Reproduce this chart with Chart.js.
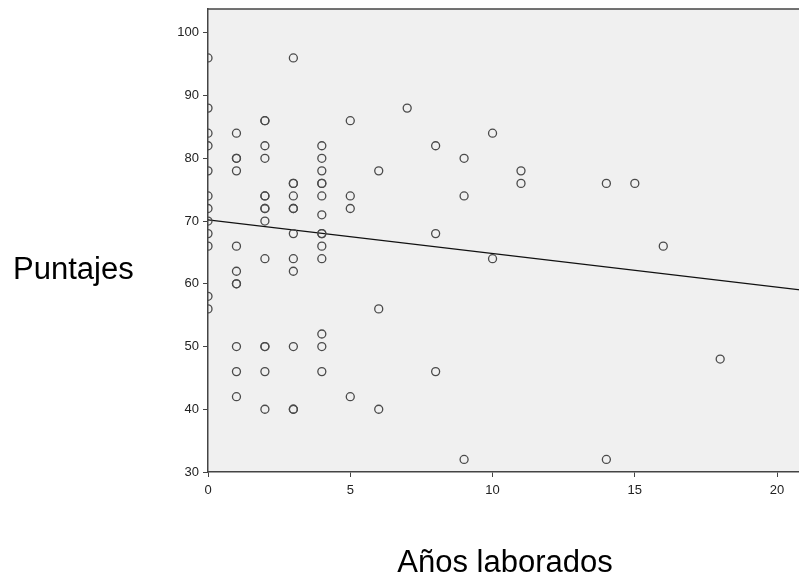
<!DOCTYPE html>
<html>
<head>
<meta charset="utf-8">
<script src="https://cdn.jsdelivr.net/npm/chart.js@4.4.0/dist/chart.umd.min.js"></script>
<style>
  html, body { margin: 0; padding: 0; background: #fff; overflow: hidden; }
  #wrap { position: relative; width: 840px; height: 575px; }
</style>
</head>
<body>
<div id="wrap"><canvas id="grafico" width="840" height="575"></canvas></div>
<script>
// Años laborados (x) y puntajes (y)
const anios = [
  0,0,0,0,0,0,0,0,0,0,0,0,
  1,1,1,1,1,1,1,1,1,1,1,
  2,2,2,2,2,2,2,2,2,2,2,2,2,2,
  3,3,3,3,3,3,3,3,3,3,3,3,
  4,4,4,4,4,4,4,4,4,4,4,4,4,4,
  5,5,5,5,
  6,6,6,
  7,
  8,8,8,
  9,9,9,
  10,10,
  11,11,
  14,14,
  15,
  16,
  18
];
const puntajes = [
  96,88,84,82,78,74,72,70,68,66,58,56,
  84,80,80,78,66,62,60,60,50,46,42,
  86,86,82,80,74,74,72,72,70,64,50,50,46,40,
  96,76,76,74,72,72,68,64,62,50,40,40,
  82,80,78,76,76,74,71,68,68,66,64,52,50,46,
  86,74,72,42,
  78,56,40,
  88,
  82,68,46,
  80,74,32,
  84,64,
  78,76,
  76,32,
  76,
  66,
  48
];
// Recta de ajuste (extremos)
const ajusteX = [0, 22];
const ajusteY = [70.2, 58.4];
const ticksY = [30, 40, 50, 60, 70, 80, 90, 100];
const ticksX = [0, 5, 10, 15, 20];

const puntos = anios.map((a, i) => ({ x: a, y: puntajes[i] }));
const linea = ajusteX.map((a, i) => ({ x: a, y: ajusteY[i] }));

const fondoYTitulos = {
  id: "fondoYTitulos",
  beforeDraw(chart) {
    const { ctx, chartArea: a } = chart;
    ctx.save();
    ctx.fillStyle = "#f0f0f0";
    ctx.fillRect(a.left, a.top, a.right - a.left, a.bottom - a.top);
    ctx.restore();
  },
  afterDraw(chart) {
    const { ctx, chartArea: a } = chart;
    ctx.save();
    ctx.strokeStyle = "#444";
    ctx.lineWidth = 1.5;
    ctx.beginPath();
    ctx.moveTo(a.left, a.top);
    ctx.lineTo(a.right, a.top);
    ctx.stroke();
    ctx.fillStyle = "#000";
    ctx.font = "31px 'Liberation Sans', Arial, sans-serif";
    ctx.textBaseline = "alphabetic";
    ctx.textAlign = "left";
    ctx.fillText("Puntajes", 13, 279);
    ctx.textAlign = "center";
    ctx.fillText("Años laborados", 505, 572);
    ctx.restore();
  }
};

new Chart(document.getElementById("grafico"), {
  type: "scatter",
  data: {
    datasets: [
      {
        label: "Puntajes",
        data: puntos,
        pointStyle: "circle",
        pointRadius: 4,
        pointHoverRadius: 4,
        pointBorderWidth: 1.3,
        borderColor: "#4a4a4a",
        backgroundColor: "rgba(0,0,0,0)",
        order: 1
      },
      {
        type: "line",
        label: "Ajuste",
        data: linea,
        borderColor: "#111",
        borderWidth: 1.2,
        pointRadius: 0,
        fill: false,
        order: 2
      }
    ]
  },
  options: {
    responsive: false,
    animation: false,
    events: [],
    layout: { padding: { top: 9, right: 6, left: 0, bottom: 0 } },
    plugins: {
      legend: { display: false },
      tooltip: { enabled: false }
    },
    scales: {
      x: {
        type: "linear",
        min: 0,
        max: 22,
        afterBuildTicks: s => { s.ticks = ticksX.map(v => ({ value: v })); },
        afterFit: s => { s.height = 103; s.paddingLeft = 0; s.paddingRight = 0; },
        grid: {
          drawOnChartArea: false,
          drawTicks: true,
          tickLength: 5,
          color: "#444"
        },
        border: { color: "#444", width: 1.5 },
        ticks: {
          color: "#222",
          padding: 6,
          maxRotation: 0,
          font: { family: "'Liberation Sans', Arial, sans-serif", size: 13 }
        }
      },
      y: {
        type: "linear",
        min: 30,
        max: 103.8,
        afterBuildTicks: s => { s.ticks = ticksY.map(v => ({ value: v })); },
        afterFit: s => { s.width = 208; s.paddingTop = 0; s.paddingBottom = 0; },
        grid: {
          drawOnChartArea: false,
          drawTicks: true,
          tickLength: 5,
          color: "#444"
        },
        border: { color: "#444", width: 1.5 },
        ticks: {
          color: "#222",
          padding: 4,
          font: { family: "'Liberation Sans', Arial, sans-serif", size: 13 }
        }
      }
    }
  },
  plugins: [fondoYTitulos]
});
</script>
</body>
</html>
